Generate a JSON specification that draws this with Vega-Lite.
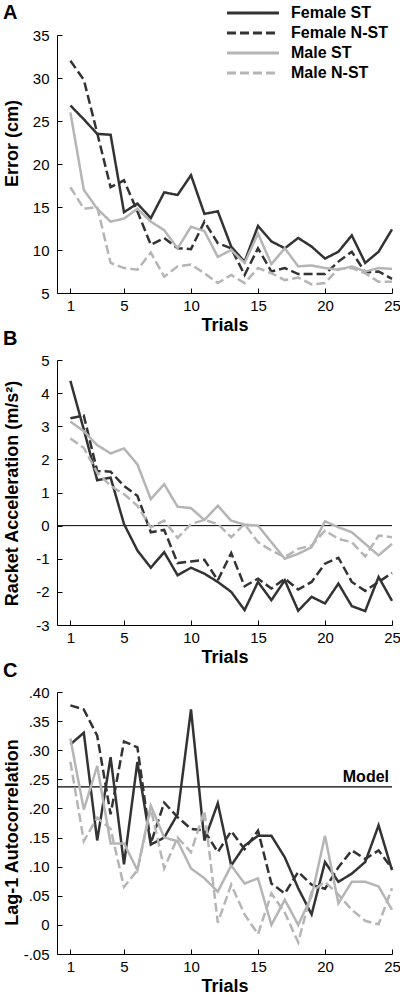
{
  "$schema": "https://vega.github.io/schema/vega-lite/v6.json",
  "padding": {"left": 2, "top": 1, "right": 0, "bottom": 0},
  "background": "white",
  "datasets": {
    "err": [
      {"t":1,"g":"Female ST","v":26.8},{"t":2,"g":"Female ST","v":25.2},{"t":3,"g":"Female ST","v":23.5},{"t":4,"g":"Female ST","v":23.4},{"t":5,"g":"Female ST","v":14.4},{"t":6,"g":"Female ST","v":15.4},{"t":7,"g":"Female ST","v":13.7},{"t":8,"g":"Female ST","v":16.7},{"t":9,"g":"Female ST","v":16.4},{"t":10,"g":"Female ST","v":18.7},{"t":11,"g":"Female ST","v":14.2},{"t":12,"g":"Female ST","v":14.5},{"t":13,"g":"Female ST","v":10.4},{"t":14,"g":"Female ST","v":8.65},{"t":15,"g":"Female ST","v":12.8},{"t":16,"g":"Female ST","v":11.0},{"t":17,"g":"Female ST","v":10.2},{"t":18,"g":"Female ST","v":11.4},{"t":19,"g":"Female ST","v":10.4},{"t":20,"g":"Female ST","v":9.0},{"t":21,"g":"Female ST","v":9.8},{"t":22,"g":"Female ST","v":11.7},{"t":23,"g":"Female ST","v":8.5},{"t":24,"g":"Female ST","v":9.8},{"t":25,"g":"Female ST","v":12.4},
      {"t":1,"g":"Female N-ST","v":32.0},{"t":2,"g":"Female N-ST","v":29.8},{"t":3,"g":"Female N-ST","v":23.6},{"t":4,"g":"Female N-ST","v":17.3},{"t":5,"g":"Female N-ST","v":18.1},{"t":6,"g":"Female N-ST","v":14.5},{"t":7,"g":"Female N-ST","v":10.6},{"t":8,"g":"Female N-ST","v":11.4},{"t":9,"g":"Female N-ST","v":10.2},{"t":10,"g":"Female N-ST","v":10.1},{"t":11,"g":"Female N-ST","v":13.3},{"t":12,"g":"Female N-ST","v":10.8},{"t":13,"g":"Female N-ST","v":10.2},{"t":14,"g":"Female N-ST","v":7.1},{"t":15,"g":"Female N-ST","v":10.2},{"t":16,"g":"Female N-ST","v":7.5},{"t":17,"g":"Female N-ST","v":7.9},{"t":18,"g":"Female N-ST","v":7.2},{"t":19,"g":"Female N-ST","v":7.2},{"t":20,"g":"Female N-ST","v":7.2},{"t":21,"g":"Female N-ST","v":8.65},{"t":22,"g":"Female N-ST","v":9.8},{"t":23,"g":"Female N-ST","v":7.4},{"t":24,"g":"Female N-ST","v":7.5},{"t":25,"g":"Female N-ST","v":6.65},
      {"t":1,"g":"Male ST","v":26.0},{"t":2,"g":"Male ST","v":17.0},{"t":3,"g":"Male ST","v":14.8},{"t":4,"g":"Male ST","v":13.3},{"t":5,"g":"Male ST","v":13.65},{"t":6,"g":"Male ST","v":14.8},{"t":7,"g":"Male ST","v":13.3},{"t":8,"g":"Male ST","v":12.3},{"t":9,"g":"Male ST","v":10.2},{"t":10,"g":"Male ST","v":12.7},{"t":11,"g":"Male ST","v":12.2},{"t":12,"g":"Male ST","v":9.2},{"t":13,"g":"Male ST","v":10.0},{"t":14,"g":"Male ST","v":8.5},{"t":15,"g":"Male ST","v":11.9},{"t":16,"g":"Male ST","v":8.35},{"t":17,"g":"Male ST","v":10.2},{"t":18,"g":"Male ST","v":8.1},{"t":19,"g":"Male ST","v":8.2},{"t":20,"g":"Male ST","v":7.9},{"t":21,"g":"Male ST","v":7.7},{"t":22,"g":"Male ST","v":8.1},{"t":23,"g":"Male ST","v":7.5},{"t":24,"g":"Male ST","v":7.9},{"t":25,"g":"Male ST","v":7.8},
      {"t":1,"g":"Male N-ST","v":17.3},{"t":2,"g":"Male N-ST","v":14.8},{"t":3,"g":"Male N-ST","v":15.0},{"t":4,"g":"Male N-ST","v":8.5},{"t":5,"g":"Male N-ST","v":7.9},{"t":6,"g":"Male N-ST","v":7.7},{"t":7,"g":"Male N-ST","v":9.7},{"t":8,"g":"Male N-ST","v":6.9},{"t":9,"g":"Male N-ST","v":8.1},{"t":10,"g":"Male N-ST","v":8.3},{"t":11,"g":"Male N-ST","v":7.3},{"t":12,"g":"Male N-ST","v":6.15},{"t":13,"g":"Male N-ST","v":7.1},{"t":14,"g":"Male N-ST","v":6.15},{"t":15,"g":"Male N-ST","v":7.9},{"t":16,"g":"Male N-ST","v":7.3},{"t":17,"g":"Male N-ST","v":6.5},{"t":18,"g":"Male N-ST","v":6.8},{"t":19,"g":"Male N-ST","v":6.0},{"t":20,"g":"Male N-ST","v":6.15},{"t":21,"g":"Male N-ST","v":7.8},{"t":22,"g":"Male N-ST","v":7.9},{"t":23,"g":"Male N-ST","v":7.3},{"t":24,"g":"Male N-ST","v":6.3},{"t":25,"g":"Male N-ST","v":6.3}
    ],
    "acc": [
      {"t":1,"g":"Female ST","v":4.37},{"t":2,"g":"Female ST","v":2.9},{"t":3,"g":"Female ST","v":1.37},{"t":4,"g":"Female ST","v":1.45},{"t":5,"g":"Female ST","v":0.05},{"t":6,"g":"Female ST","v":-0.75},{"t":7,"g":"Female ST","v":-1.27},{"t":8,"g":"Female ST","v":-0.8},{"t":9,"g":"Female ST","v":-1.5},{"t":10,"g":"Female ST","v":-1.27},{"t":11,"g":"Female ST","v":-1.45},{"t":12,"g":"Female ST","v":-1.7},{"t":13,"g":"Female ST","v":-2.0},{"t":14,"g":"Female ST","v":-2.55},{"t":15,"g":"Female ST","v":-1.7},{"t":16,"g":"Female ST","v":-2.25},{"t":17,"g":"Female ST","v":-1.65},{"t":18,"g":"Female ST","v":-2.57},{"t":19,"g":"Female ST","v":-2.15},{"t":20,"g":"Female ST","v":-2.35},{"t":21,"g":"Female ST","v":-1.75},{"t":22,"g":"Female ST","v":-2.43},{"t":23,"g":"Female ST","v":-2.58},{"t":24,"g":"Female ST","v":-1.55},{"t":25,"g":"Female ST","v":-2.27},
      {"t":1,"g":"Female N-ST","v":3.24},{"t":2,"g":"Female N-ST","v":3.32},{"t":3,"g":"Female N-ST","v":1.65},{"t":4,"g":"Female N-ST","v":1.63},{"t":5,"g":"Female N-ST","v":1.2},{"t":6,"g":"Female N-ST","v":0.9},{"t":7,"g":"Female N-ST","v":-0.2},{"t":8,"g":"Female N-ST","v":-0.13},{"t":9,"g":"Female N-ST","v":-1.13},{"t":10,"g":"Female N-ST","v":-1.08},{"t":11,"g":"Female N-ST","v":-1.03},{"t":12,"g":"Female N-ST","v":-1.65},{"t":13,"g":"Female N-ST","v":-0.83},{"t":14,"g":"Female N-ST","v":-1.83},{"t":15,"g":"Female N-ST","v":-1.6},{"t":16,"g":"Female N-ST","v":-1.9},{"t":17,"g":"Female N-ST","v":-1.6},{"t":18,"g":"Female N-ST","v":-1.93},{"t":19,"g":"Female N-ST","v":-1.7},{"t":20,"g":"Female N-ST","v":-1.15},{"t":21,"g":"Female N-ST","v":-0.97},{"t":22,"g":"Female N-ST","v":-1.7},{"t":23,"g":"Female N-ST","v":-1.97},{"t":24,"g":"Female N-ST","v":-1.7},{"t":25,"g":"Female N-ST","v":-1.43},
      {"t":1,"g":"Male ST","v":3.14},{"t":2,"g":"Male ST","v":2.85},{"t":3,"g":"Male ST","v":2.43},{"t":4,"g":"Male ST","v":2.18},{"t":5,"g":"Male ST","v":2.33},{"t":6,"g":"Male ST","v":1.85},{"t":7,"g":"Male ST","v":0.8},{"t":8,"g":"Male ST","v":1.25},{"t":9,"g":"Male ST","v":0.57},{"t":10,"g":"Male ST","v":0.53},{"t":11,"g":"Male ST","v":0.17},{"t":12,"g":"Male ST","v":0.6},{"t":13,"g":"Male ST","v":0.15},{"t":14,"g":"Male ST","v":0.03},{"t":15,"g":"Male ST","v":0.0},{"t":16,"g":"Male ST","v":-0.5},{"t":17,"g":"Male ST","v":-1.0},{"t":18,"g":"Male ST","v":-0.85},{"t":19,"g":"Male ST","v":-0.65},{"t":20,"g":"Male ST","v":0.13},{"t":21,"g":"Male ST","v":-0.05},{"t":22,"g":"Male ST","v":-0.2},{"t":23,"g":"Male ST","v":-0.55},{"t":24,"g":"Male ST","v":-0.9},{"t":25,"g":"Male ST","v":-0.55},
      {"t":1,"g":"Male N-ST","v":2.63},{"t":2,"g":"Male N-ST","v":2.35},{"t":3,"g":"Male N-ST","v":1.6},{"t":4,"g":"Male N-ST","v":1.2},{"t":5,"g":"Male N-ST","v":0.95},{"t":6,"g":"Male N-ST","v":0.6},{"t":7,"g":"Male N-ST","v":-0.05},{"t":8,"g":"Male N-ST","v":0.15},{"t":9,"g":"Male N-ST","v":-0.37},{"t":10,"g":"Male N-ST","v":0.05},{"t":11,"g":"Male N-ST","v":0.17},{"t":12,"g":"Male N-ST","v":0.05},{"t":13,"g":"Male N-ST","v":-0.35},{"t":14,"g":"Male N-ST","v":0.05},{"t":15,"g":"Male N-ST","v":-0.5},{"t":16,"g":"Male N-ST","v":-0.75},{"t":17,"g":"Male N-ST","v":-0.95},{"t":18,"g":"Male N-ST","v":-0.7},{"t":19,"g":"Male N-ST","v":-0.6},{"t":20,"g":"Male N-ST","v":-0.15},{"t":21,"g":"Male N-ST","v":-0.4},{"t":22,"g":"Male N-ST","v":-0.5},{"t":23,"g":"Male N-ST","v":-0.93},{"t":24,"g":"Male N-ST","v":-0.3},{"t":25,"g":"Male N-ST","v":-0.35}
    ],
    "ac": [
      {"t":1,"g":"Female ST","v":0.31},{"t":2,"g":"Female ST","v":0.33},{"t":3,"g":"Female ST","v":0.145},{"t":4,"g":"Female ST","v":0.288},{"t":5,"g":"Female ST","v":0.104},{"t":6,"g":"Female ST","v":0.28},{"t":7,"g":"Female ST","v":0.138},{"t":8,"g":"Female ST","v":0.15},{"t":9,"g":"Female ST","v":0.19},{"t":10,"g":"Female ST","v":0.37},{"t":11,"g":"Female ST","v":0.145},{"t":12,"g":"Female ST","v":0.209},{"t":13,"g":"Female ST","v":0.102},{"t":14,"g":"Female ST","v":0.136},{"t":15,"g":"Female ST","v":0.153},{"t":16,"g":"Female ST","v":0.153},{"t":17,"g":"Female ST","v":0.116},{"t":18,"g":"Female ST","v":0.063},{"t":19,"g":"Female ST","v":0.018},{"t":20,"g":"Female ST","v":0.108},{"t":21,"g":"Female ST","v":0.074},{"t":22,"g":"Female ST","v":0.088},{"t":23,"g":"Female ST","v":0.108},{"t":24,"g":"Female ST","v":0.171},{"t":25,"g":"Female ST","v":0.094},
      {"t":1,"g":"Female N-ST","v":0.377},{"t":2,"g":"Female N-ST","v":0.37},{"t":3,"g":"Female N-ST","v":0.325},{"t":4,"g":"Female N-ST","v":0.19},{"t":5,"g":"Female N-ST","v":0.315},{"t":6,"g":"Female N-ST","v":0.305},{"t":7,"g":"Female N-ST","v":0.14},{"t":8,"g":"Female N-ST","v":0.21},{"t":9,"g":"Female N-ST","v":0.185},{"t":10,"g":"Female N-ST","v":0.165},{"t":11,"g":"Female N-ST","v":0.162},{"t":12,"g":"Female N-ST","v":0.125},{"t":13,"g":"Female N-ST","v":0.161},{"t":14,"g":"Female N-ST","v":0.13},{"t":15,"g":"Female N-ST","v":0.162},{"t":16,"g":"Female N-ST","v":0.071},{"t":17,"g":"Female N-ST","v":0.054},{"t":18,"g":"Female N-ST","v":0.091},{"t":19,"g":"Female N-ST","v":0.069},{"t":20,"g":"Female N-ST","v":0.062},{"t":21,"g":"Female N-ST","v":0.099},{"t":22,"g":"Female N-ST","v":0.128},{"t":23,"g":"Female N-ST","v":0.113},{"t":24,"g":"Female N-ST","v":0.128},{"t":25,"g":"Female N-ST","v":0.097},
      {"t":1,"g":"Male ST","v":0.32},{"t":2,"g":"Male ST","v":0.198},{"t":3,"g":"Male ST","v":0.273},{"t":4,"g":"Male ST","v":0.14},{"t":5,"g":"Male ST","v":0.14},{"t":6,"g":"Male ST","v":0.094},{"t":7,"g":"Male ST","v":0.205},{"t":8,"g":"Male ST","v":0.15},{"t":9,"g":"Male ST","v":0.144},{"t":10,"g":"Male ST","v":0.097},{"t":11,"g":"Male ST","v":0.08},{"t":12,"g":"Male ST","v":0.057},{"t":13,"g":"Male ST","v":0.102},{"t":14,"g":"Male ST","v":0.071},{"t":15,"g":"Male ST","v":0.08},{"t":16,"g":"Male ST","v":0.0},{"t":17,"g":"Male ST","v":0.043},{"t":18,"g":"Male ST","v":0.0},{"t":19,"g":"Male ST","v":0.049},{"t":20,"g":"Male ST","v":0.153},{"t":21,"g":"Male ST","v":0.037},{"t":22,"g":"Male ST","v":0.074},{"t":23,"g":"Male ST","v":0.074},{"t":24,"g":"Male ST","v":0.066},{"t":25,"g":"Male ST","v":0.026},
      {"t":1,"g":"Male N-ST","v":0.28},{"t":2,"g":"Male N-ST","v":0.144},{"t":3,"g":"Male N-ST","v":0.184},{"t":4,"g":"Male N-ST","v":0.165},{"t":5,"g":"Male N-ST","v":0.065},{"t":6,"g":"Male N-ST","v":0.094},{"t":7,"g":"Male N-ST","v":0.2},{"t":8,"g":"Male N-ST","v":0.097},{"t":9,"g":"Male N-ST","v":0.15},{"t":10,"g":"Male N-ST","v":0.125},{"t":11,"g":"Male N-ST","v":0.196},{"t":12,"g":"Male N-ST","v":0.004},{"t":13,"g":"Male N-ST","v":0.069},{"t":14,"g":"Male N-ST","v":0.018},{"t":15,"g":"Male N-ST","v":-0.016},{"t":16,"g":"Male N-ST","v":0.054},{"t":17,"g":"Male N-ST","v":0.021},{"t":18,"g":"Male N-ST","v":-0.03},{"t":19,"g":"Male N-ST","v":0.057},{"t":20,"g":"Male N-ST","v":0.074},{"t":21,"g":"Male N-ST","v":0.052},{"t":22,"g":"Male N-ST","v":0.026},{"t":23,"g":"Male N-ST","v":0.007},{"t":24,"g":"Male N-ST","v":0.001},{"t":25,"g":"Male N-ST","v":0.063}
    ],
    "zero": [{"v": 0}],
    "model": [{"t": 25, "v": 0.237, "label": "Model"}]
  },
  "vconcat": [
    {
      "width": 335,
      "height": 258,
      "title": {"text": "A", "anchor": "start", "frame": "bounds", "fontSize": 20, "fontWeight": "bold", "font": "Liberation Sans", "offset": -22},
      "data": {"name": "err"},
      "mark": {"type": "line", "strokeWidth": 2.5},
      "encoding": {
        "x": {"field": "t", "type": "quantitative", "scale": {"domain": [0, 25], "nice": false, "zero": false},
              "axis": {"values": [1, 5, 10, 15, 20, 25], "tickCount": 30, "format": "d", "title": "Trials", "labelOverlap": false}},
        "y": {"field": "v", "type": "quantitative", "scale": {"domain": [5, 35], "nice": false, "zero": false},
              "axis": {"values": [5, 10, 15, 20, 25, 30, 35], "tickCount": 30, "format": "d", "title": "Error (cm)", "titleX": -36, "titleY": 108, "labelOverlap": false}},
        "color": {"field": "g", "type": "nominal",
                  "scale": {"domain": ["Female ST", "Female N-ST", "Male ST", "Male N-ST"], "range": ["#333333", "#333333", "#b5b5b5", "#b5b5b5"]},
                  "legend": {"orient": "none", "legendX": 184, "legendY": -34, "title": null, "symbolType": "M-2.5,0L2.5,0", "symbolSize": 433, "symbolStrokeWidth": 3, "labelOffset": 26, "rowPadding": 0}},
        "strokeDash": {"field": "g", "type": "nominal",
                  "scale": {"domain": ["Female ST", "Female N-ST", "Male ST", "Male N-ST"], "range": [[1, 0], [9, 4], [1, 0], [9, 4]]},
                  "legend": {"orient": "none", "legendX": 184, "legendY": -34, "title": null, "symbolType": "M-2.5,0L2.5,0", "symbolSize": 433, "symbolStrokeWidth": 3, "labelOffset": 26, "rowPadding": 0}}
      }
    },
    {
      "width": 335,
      "height": 265,
      "title": {"text": "B", "anchor": "start", "frame": "bounds", "fontSize": 20, "fontWeight": "bold", "font": "Liberation Sans", "offset": 4},
      "layer": [
        {
          "data": {"name": "zero"},
          "mark": {"type": "rule", "color": "#000000", "strokeWidth": 1},
          "encoding": {"y": {"field": "v", "type": "quantitative"}}
        },
        {
          "data": {"name": "acc"},
          "mark": {"type": "line", "strokeWidth": 2.5},
          "encoding": {
            "x": {"field": "t", "type": "quantitative", "scale": {"domain": [0, 25], "nice": false, "zero": false},
                  "axis": {"values": [1, 5, 10, 15, 20, 25], "tickCount": 30, "format": "d", "title": "Trials", "labelOverlap": false}},
            "y": {"field": "v", "type": "quantitative", "scale": {"domain": [-3, 5], "nice": false, "zero": false},
                  "axis": {"values": [-3, -2, -1, 0, 1, 2, 3, 4, 5], "tickCount": 30, "title": "Racket Acceleration (m/s²)", "titleX": -36, "titleY": 133, "labelOverlap": false,
                           "labelExpr": "replace(format(datum.value, 'd'), '−', '-')"}},
            "color": {"field": "g", "type": "nominal",
                      "scale": {"domain": ["Female ST", "Female N-ST", "Male ST", "Male N-ST"], "range": ["#333333", "#333333", "#b5b5b5", "#b5b5b5"]},
                      "legend": null},
            "strokeDash": {"field": "g", "type": "nominal",
                      "scale": {"domain": ["Female ST", "Female N-ST", "Male ST", "Male N-ST"], "range": [[1, 0], [9, 4], [1, 0], [9, 4]]},
                      "legend": null}
          }
        }
      ]
    },
    {
      "width": 335,
      "height": 262,
      "title": {"text": "C", "anchor": "start", "frame": "bounds", "fontSize": 20, "fontWeight": "bold", "font": "Liberation Sans", "offset": 4},
      "layer": [
        {
          "data": {"name": "model"},
          "mark": {"type": "rule", "color": "#000000", "strokeWidth": 1.2},
          "encoding": {"y": {"field": "v", "type": "quantitative"}}
        },
        {
          "data": {"name": "model"},
          "mark": {"type": "text", "align": "right", "baseline": "bottom", "dy": -2, "dx": -3, "fontSize": 16, "fontWeight": "bold", "font": "Liberation Sans", "color": "#000000"},
          "encoding": {"x": {"field": "t", "type": "quantitative"}, "y": {"field": "v", "type": "quantitative"}, "text": {"field": "label"}}
        },
        {
          "data": {"name": "ac"},
          "mark": {"type": "line", "strokeWidth": 2.5},
          "encoding": {
            "x": {"field": "t", "type": "quantitative", "scale": {"domain": [0, 25], "nice": false, "zero": false},
                  "axis": {"values": [1, 5, 10, 15, 20, 25], "tickCount": 30, "format": "d", "title": "Trials", "labelOverlap": false}},
            "y": {"field": "v", "type": "quantitative", "scale": {"domain": [-0.05, 0.40], "nice": false, "zero": false},
                  "axis": {"values": [-0.05, 0, 0.05, 0.1, 0.15, 0.2, 0.25, 0.3, 0.35, 0.4], "tickCount": 30, "title": "Lag-1 Autocorrelation", "titleX": -36, "titleY": 140, "labelOverlap": false,
                           "labelExpr": "datum.value == 0 ? '0' : replace(replace(format(datum.value, '.2f'), '−', '-'), '0.', '.')"}},
            "color": {"field": "g", "type": "nominal",
                      "scale": {"domain": ["Female ST", "Female N-ST", "Male ST", "Male N-ST"], "range": ["#333333", "#333333", "#b5b5b5", "#b5b5b5"]},
                      "legend": null},
            "strokeDash": {"field": "g", "type": "nominal",
                      "scale": {"domain": ["Female ST", "Female N-ST", "Male ST", "Male N-ST"], "range": [[1, 0], [9, 4], [1, 0], [9, 4]]},
                      "legend": null}
          }
        }
      ]
    }
  ],
  "spacing": 67,
  "bounds": "flush",
  "resolve": {"scale": {"x": "independent", "y": "independent", "color": "independent", "strokeDash": "independent"}},
  "config": {
    "view": {"stroke": null},
    "font": "Liberation Sans",
    "axis": {
      "grid": false, "domainColor": "#000000", "tickColor": "#000000", "labelColor": "#000000", "titleColor": "#000000",
      "labelFont": "Liberation Sans", "titleFont": "Liberation Sans", "labelFontSize": 15, "titleFontSize": 18, "titleFontWeight": "bold",
      "tickSize": -5, "domainWidth": 1, "tickWidth": 1, "labelOverlap": false, "labelFlush": false
    },
    "axisX": {"labelPadding": 10, "titlePadding": 3},
    "axisY": {"labelPadding": 13},
    "legend": {
      "labelFontSize": 16, "labelFontWeight": "bold",
      "labelFont": "Liberation Sans", "labelColor": "#000000"
    }
  }
}
